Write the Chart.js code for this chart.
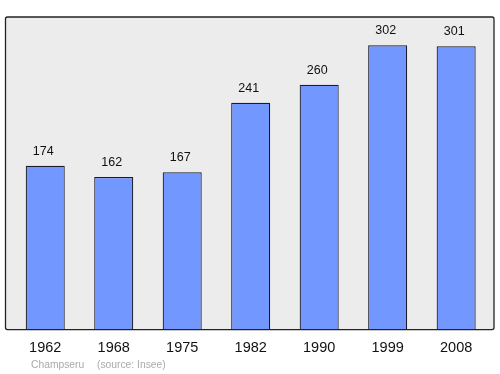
<!DOCTYPE html>
<html><head><meta charset="utf-8">
<script src="https://cdn.jsdelivr.net/npm/chart.js@4"></script>
<style>html,body{margin:0;padding:0;background:#fff;}#wrap{width:500px;height:374px;position:relative;}</style>
</head><body>
<div id="wrap"><canvas id="c" width="500" height="374"></canvas></div>
<script>
const years = ['1962','1968','1975','1982','1990','1999','2008'];
const population = [174, 162, 167, 241, 260, 302, 301];
const footerPlace = 'Champseru';
const footerSource = '(source: Insee)';

const framePlugin = {
  id: 'frame',
  beforeDraw(chart) {
    const {ctx, chartArea: a} = chart;
    ctx.save();
    const l = 5.5, t = a.top, r = 494, b = a.bottom;
    ctx.beginPath();
    ctx.roundRect(l, t, r - l, b - t, 2);
    ctx.fillStyle = '#ececec';
    ctx.fill();
    ctx.restore();
  },
  afterDatasetsDraw(chart) {
    const {ctx, chartArea: a} = chart;
    ctx.save();
    const l = 5.5, t = a.top, r = 494, b = a.bottom;
    ctx.beginPath();
    ctx.roundRect(l, t, r - l, b - t, 2);
    ctx.lineWidth = 1.3;
    ctx.strokeStyle = '#222';
    ctx.stroke();
    // value labels
    const meta = chart.getDatasetMeta(0);
    ctx.fillStyle = '#111';
    ctx.font = '12.5px "Liberation Sans", Arial, sans-serif';
    ctx.textAlign = 'center';
    ctx.textBaseline = 'middle';
    meta.data.forEach((bar, i) => {
      ctx.fillText(String(population[i]), bar.x - 2, bar.y - 14.5);
    });
    // footer
    ctx.fillStyle = '#aaaaaa';
    ctx.font = '10.3px "Liberation Sans", Arial, sans-serif';
    ctx.textAlign = 'left';
    ctx.fillText(footerPlace, 31, 365);
    ctx.fillText(footerSource, 97, 365);
    ctx.restore();
  }
};

new Chart(document.getElementById('c'), {
  type: 'bar',
  data: {
    labels: years,
    datasets: [{
      data: population,
      backgroundColor: '#7297ff',
      borderColor: '#1a1a2a',
      borderWidth: 1.2,
      borderSkipped: 'bottom',
      barPercentage: 0.57,
      categoryPercentage: 1
    }]
  },
  options: {
    responsive: false,
    animation: false,
    events: [],
    layout: { padding: { left: 11, right: 9.6, top: 17, bottom: 7 } },
    plugins: { legend: { display: false }, tooltip: { enabled: false }, title: { display: false } },
    scales: {
      x: {
        grid: { display: false, drawTicks: false },
        border: { display: false },
        ticks: { color: '#111', padding: 10, maxRotation: 0, font: { size: 14.5, family: '"Liberation Sans", Arial, sans-serif' } }
      },
      y: {
        display: false,
        min: 0,
        max: 332
      }
    }
  },
  plugins: [framePlugin]
});
</script>
</body></html>
